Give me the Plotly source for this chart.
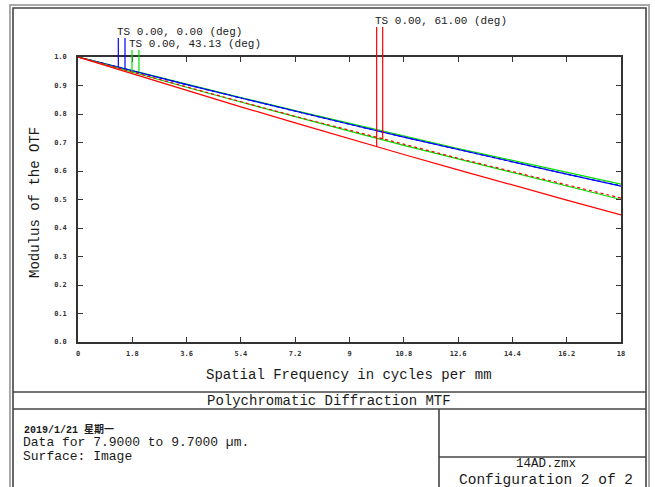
import numpy as np
import plotly.graph_objects as go

# ---------------- data ----------------
freq = [0.0, 1.8, 3.6, 5.4, 7.2, 9.0, 10.8, 12.6, 14.4, 16.2, 18.0]
field1_T = [1.0, 0.951, 0.903, 0.856, 0.809, 0.764, 0.719, 0.675, 0.631, 0.589, 0.547]
field1_S = [1.0, 0.951, 0.903, 0.856, 0.809, 0.764, 0.719, 0.675, 0.631, 0.589, 0.548]
field2_T = [1.0, 0.946, 0.894, 0.842, 0.790, 0.740, 0.690, 0.642, 0.594, 0.546, 0.500]
field2_S = [1.0, 0.952, 0.904, 0.858, 0.812, 0.767, 0.723, 0.679, 0.637, 0.595, 0.554]
field3_T = [1.0, 0.941, 0.883, 0.825, 0.769, 0.713, 0.658, 0.604, 0.550, 0.498, 0.446]
field3_S = [1.0, 0.947, 0.895, 0.843, 0.792, 0.743, 0.693, 0.645, 0.598, 0.551, 0.505]

x_ticks = [0, 1.8, 3.6, 5.4, 7.2, 9, 10.8, 12.6, 14.4, 16.2, 18]
x_tick_labels = ["0", "1.8", "3.6", "5.4", "7.2", "9", "10.8", "12.6", "14.4", "16.2", "18"]
y_ticks = [0.0, 0.1, 0.2, 0.3, 0.4, 0.5, 0.6, 0.7, 0.8, 0.9, 1.0]
y_tick_labels = ["0.0", "0.1", "0.2", "0.3", "0.4", "0.5", "0.6", "0.7", "0.8", "0.9", "1.0"]

field_labels = ["TS 0.00, 0.00 (deg)", "TS 0.00, 43.13 (deg)", "TS 0.00, 61.00 (deg)"]
marker_freq_T = [1.336, 1.79, 9.90]
marker_freq_S = [1.558, 2.02, 10.10]

BLUE, GREEN, RED = "#0000ff", "#00dd00", "#ff0000"
MONO = "Liberation Mono, Courier New, monospace"
TXT = "#1a1a1a"

# ---------------- layout geometry ----------------
W, H = 655, 487
L, R, T, B = 78, 621, 57, 342


def X(px):
    return (px - L) / (R - L)


def Y(py):
    return (B - py) / (B - T)


fig = go.Figure()

series = [
    (field2_S, GREEN, "solid"),
    (field1_T, BLUE, "solid"),
    (field1_S, BLUE, "3px,3px"),
    (field2_T, GREEN, "solid"),
    (field3_S, RED, "3px,3px"),
    (field3_T, RED, "solid"),
]
for ys, col, dash in series:
    fig.add_trace(go.Scatter(x=freq, y=ys, mode="lines",
                             line=dict(color=col, width=1.2, dash=dash),
                             showlegend=False, hoverinfo="skip"))

shapes = []
# field marker lines
marker_sets = [
    (field1_T, field1_S, BLUE, Y(38)),
    (field2_T, field2_S, GREEN, Y(50)),
    (field3_T, field3_S, RED, Y(27)),
]
for i, (sT, sS, col, top) in enumerate(marker_sets):
    for f, s in ((marker_freq_T[i], sT), (marker_freq_S[i], sS)):
        yv = float(np.interp(f, freq, s))
        shapes.append(dict(type="line", xref="x", yref="paper", x0=f, x1=f,
                           y0=yv, y1=top, line=dict(color=col, width=1.2)))

# frame
FR = "#444444"
shapes += [
    dict(type="rect", xref="paper", yref="paper", x0=X(10), x1=X(649), y0=Y(5), y1=Y(500),
         line=dict(color="#aaaaaa", width=2)),
    dict(type="rect", xref="paper", yref="paper", x0=X(13), x1=X(646), y0=Y(8), y1=Y(500),
         line=dict(color=FR, width=1.6)),
    dict(type="line", xref="paper", yref="paper", x0=X(13), x1=X(646), y0=Y(392), y1=Y(392),
         line=dict(color=FR, width=1.6)),
    dict(type="line", xref="paper", yref="paper", x0=X(13), x1=X(646), y0=Y(409), y1=Y(409),
         line=dict(color=FR, width=1.6)),
    dict(type="line", xref="paper", yref="paper", x0=X(439), x1=X(439), y0=Y(409), y1=Y(500),
         line=dict(color=FR, width=1.6)),
    dict(type="line", xref="paper", yref="paper", x0=X(439), x1=X(646), y0=Y(457), y1=Y(457),
         line=dict(color=FR, width=1.6)),
]

annotations = []
label_y = [Y(32), Y(43.5), Y(21)]
label_shift = [-3, -5, -4]
for i, t in enumerate(field_labels):
    annotations.append(dict(text=t, xref="x", yref="paper", x=marker_freq_T[i], y=label_y[i],
                            xanchor="left", yanchor="middle", xshift=label_shift[i], showarrow=False,
                            font=dict(family=MONO, size=11, color=TXT)))


def txt(t, px, py, size, xanchor="center", weight="normal", family=MONO):
    annotations.append(dict(text=t, xref="paper", yref="paper", x=X(px), y=Y(py),
                            xanchor=xanchor, yanchor="middle", showarrow=False,
                            font=dict(family=family, size=size, color=TXT, weight=weight)))


txt("Spatial Frequency in cycles per mm", 349, 375, 14)
annotations.append(dict(text="Modulus of the OTF", xref="paper", yref="paper", x=X(35), y=Y(203),
                        xanchor="center", yanchor="middle", textangle=-90, showarrow=False,
                        font=dict(family=MONO, size=14, color=TXT)))
txt("Polychromatic Diffraction MTF", 329, 401, 14)
txt("2019/1/21 星期一", 22, 429, 10, xanchor="left", weight="bold",
    family="Liberation Mono, Noto Sans CJK SC")
txt("Data for 7.9000 to 9.7000 µm.", 21, 442.5, 13, xanchor="left")
txt("Surface: Image", 21, 456.5, 13, xanchor="left")
txt("14AD.zmx", 546, 464, 12.5)
txt("Configuration 2 of 2", 546, 480, 14.5)

tickfont = dict(family="DejaVu Sans Mono", size=7, color="#333", weight="bold")
fig.update_xaxes(range=[0, 18], tickvals=x_ticks, ticktext=x_tick_labels,
                 ticks="inside", ticklen=5, tickwidth=1.2, tickcolor="#333",
                 showline=True, linecolor="#333", linewidth=1.6, mirror="ticks",
                 showgrid=False, zeroline=False, tickfont=tickfont, ticklabelstandoff=4)
fig.update_yaxes(range=[0, 1], tickvals=y_ticks, ticktext=y_tick_labels,
                 ticks="inside", ticklen=5, tickwidth=1.2, tickcolor="#333",
                 showline=True, linecolor="#333", linewidth=1.6, mirror="ticks",
                 showgrid=False, zeroline=False, tickfont=tickfont, ticklabelstandoff=8)

fig.update_layout(width=W, height=H, margin=dict(l=L, r=W - R, t=T, b=H - B),
                  paper_bgcolor="white", plot_bgcolor="white",
                  shapes=shapes, annotations=annotations, showlegend=False)

fig.write_html("out.html")
